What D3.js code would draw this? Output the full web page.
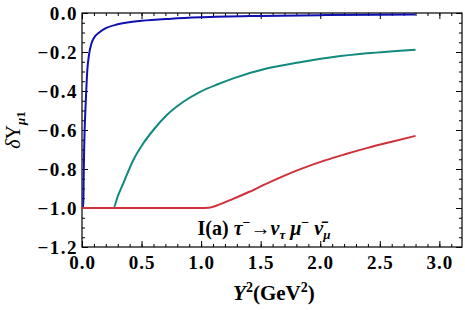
<!DOCTYPE html>
<meta charset="utf-8">
<script src="https://d3js.org/d3.v7.min.js"></script>
<style>
  body { margin: 0; background: #fff; }
  text { font-family: "Liberation Serif", "Times New Roman", serif; font-weight: bold; }
</style>
<div id="my_dataviz"></div>
<script>

// curves: [Y^2, deltaUpsilon]
var blueCurve = [[0.0,-1.0],[0.011,-1.0],[0.014,-0.85],[0.018,-0.7],[0.022,-0.6],[0.027,-0.52],[0.034,-0.42],
  [0.045,-0.29],[0.06,-0.21],[0.08,-0.155],[0.1,-0.128],[0.15,-0.097],[0.2,-0.078],[0.3,-0.058],[0.5,-0.04],
  [0.75,-0.029],[1.0,-0.022],[1.5,-0.015],[2.0,-0.011],[2.5,-0.009],[2.8,-0.008]];
var tealCurve = [[0.0,-1.0],[0.263,-1.0],[0.3,-0.94],[0.347,-0.873],[0.431,-0.754],[0.515,-0.668],[0.599,-0.60],
  [0.712,-0.523],[0.851,-0.455],[0.992,-0.404],[1.145,-0.364],[1.27,-0.335],[1.55,-0.285],[1.83,-0.252],
  [2.11,-0.226],[2.39,-0.207],[2.8,-0.188]];
var redCurve = [[0.0,-1.0],[1.0,-1.0],[1.06,-0.999],[1.1,-0.994],[1.15,-0.983],[1.25,-0.958],[1.4,-0.918],
  [1.55,-0.875],[1.7,-0.834],[1.85,-0.797],[2.04,-0.756],[2.2,-0.726],[2.39,-0.693],[2.6,-0.66],[2.8,-0.63]];

var xTicks = [0.0, 0.5, 1.0, 1.5, 2.0, 2.5, 3.0];
var yTicks = [0.0, -0.2, -0.4, -0.6, -0.8, -1.0, -1.2];

var margin = {top: 13, right: 3, bottom: 63, left: 82},
    width = 465 - margin.left - margin.right,
    height = 310 - margin.top - margin.bottom;

var svg = d3.select("#my_dataviz")
  .append("svg")
    .attr("width", 465)
    .attr("height", 310)
  .append("g")
    .attr("transform", "translate(" + margin.left + "," + margin.top + ")");

var x = d3.scaleLinear().domain([0, 3.19]).range([0, width]);
var y = d3.scaleLinear().domain([-1.2, 0]).range([height, 0]);

var xMinor = d3.range(0, 3.19, 0.1);
var yMinor = d3.range(-1.2, 0.001, 0.05);

// minor ticks first, then major ticks with labels
function addAxis(axisFn, scale, pos, values, size, labels) {
  var a = axisFn(scale).tickValues(values).tickSizeInner(-size).tickSizeOuter(0);
  if (labels) a.tickFormat(d3.format(".1f")).tickPadding(labels);
  else a.tickFormat("");
  var g = svg.append("g").attr("transform", pos).call(a);
  g.select(".domain").remove();
  g.selectAll("line").attr("stroke", "#000");
  return g;
}

addAxis(d3.axisBottom, x, "translate(0," + height + ")", xMinor, 3);
addAxis(d3.axisTop, x, "translate(0,0)", xMinor, 3);
addAxis(d3.axisLeft, y, "translate(0,0)", yMinor, 3);
addAxis(d3.axisRight, y, "translate(" + width + ",0)", yMinor, 3);

var gx = addAxis(d3.axisBottom, x, "translate(0," + height + ")", xTicks, 6, 9);
addAxis(d3.axisTop, x, "translate(0,0)", xTicks, 6);
var gy = addAxis(d3.axisLeft, y, "translate(0,0)", yTicks, 6, 4);
addAxis(d3.axisRight, y, "translate(" + width + ",0)", yTicks, 6);

gx.selectAll("text").attr("font-size", 19).attr("letter-spacing", 1).attr("fill", "#000");
gy.selectAll("text").attr("font-size", 19).attr("letter-spacing", 1.5).attr("fill", "#000");

// frame
svg.append("rect")
  .attr("width", width).attr("height", height)
  .attr("fill", "none").attr("stroke", "#000").attr("stroke-width", 1.2);

var line = d3.line()
  .x(function(d) { return x(d[0]); })
  .y(function(d) { return y(d[1]); })
  .curve(d3.curveMonotoneX);

svg.append("path").datum(tealCurve).attr("d", line)
  .attr("fill", "none").attr("stroke", "#118a7e").attr("stroke-width", 2);
svg.append("path").datum(blueCurve).attr("d", line)
  .attr("fill", "none").attr("stroke", "#1010b0").attr("stroke-width", 2);
svg.append("path").datum(redCurve).attr("d", line)
  .attr("fill", "none").attr("stroke", "#d0303a").attr("stroke-width", 2);

// annotation
var ann = svg.append("text")
  .attr("x", x(0.97)).attr("y", y(-1.14))
  .attr("font-size", 20).attr("fill", "#000");
ann.append("tspan").text("I(a) ");
ann.append("tspan").attr("font-style", "italic").text("τ");
ann.append("tspan").attr("dy", -8).attr("font-size", 14).text("−");
ann.append("tspan").attr("dy", 8).text("→");
ann.append("tspan").attr("font-style", "italic").text("ν");
ann.append("tspan").attr("dy", 4).attr("font-size", 13).attr("font-style", "italic").text("τ");
ann.append("tspan").attr("dy", -4).attr("font-style", "italic").text(" μ");
ann.append("tspan").attr("dy", -8).attr("font-size", 14).text("−");
ann.append("tspan").attr("dy", 8).attr("font-style", "italic").text(" ν\u0304");
ann.append("tspan").attr("dy", 4).attr("font-size", 13).attr("font-style", "italic").text("μ");

// x axis title
var xt = svg.append("text")
  .attr("x", width * 0.505).attr("y", height + 53)
  .attr("text-anchor", "middle").attr("font-size", 21).attr("fill", "#000");
xt.append("tspan").attr("font-style", "italic").text("Y");
xt.append("tspan").attr("dy", -8).attr("font-size", 14).text("2");
xt.append("tspan").attr("dy", 8).text("(GeV");
xt.append("tspan").attr("dy", -8).attr("font-size", 14).text("2");
xt.append("tspan").attr("dy", 8).text(")");

// y axis title
var yt = svg.append("text")
  .attr("transform", "translate(" + (-62) + "," + y(-0.6) + ") rotate(-90)")
  .attr("text-anchor", "middle").attr("font-size", 20).attr("fill", "#000");
yt.append("tspan").attr("font-style", "italic").attr("font-weight", "normal").text("δ");
yt.append("tspan").attr("font-weight", "normal").text("Υ");
yt.append("tspan").attr("dy", 5).attr("font-size", 13).attr("font-style", "italic").text("μ");
yt.append("tspan").attr("font-size", 13).text("1");

</script>
